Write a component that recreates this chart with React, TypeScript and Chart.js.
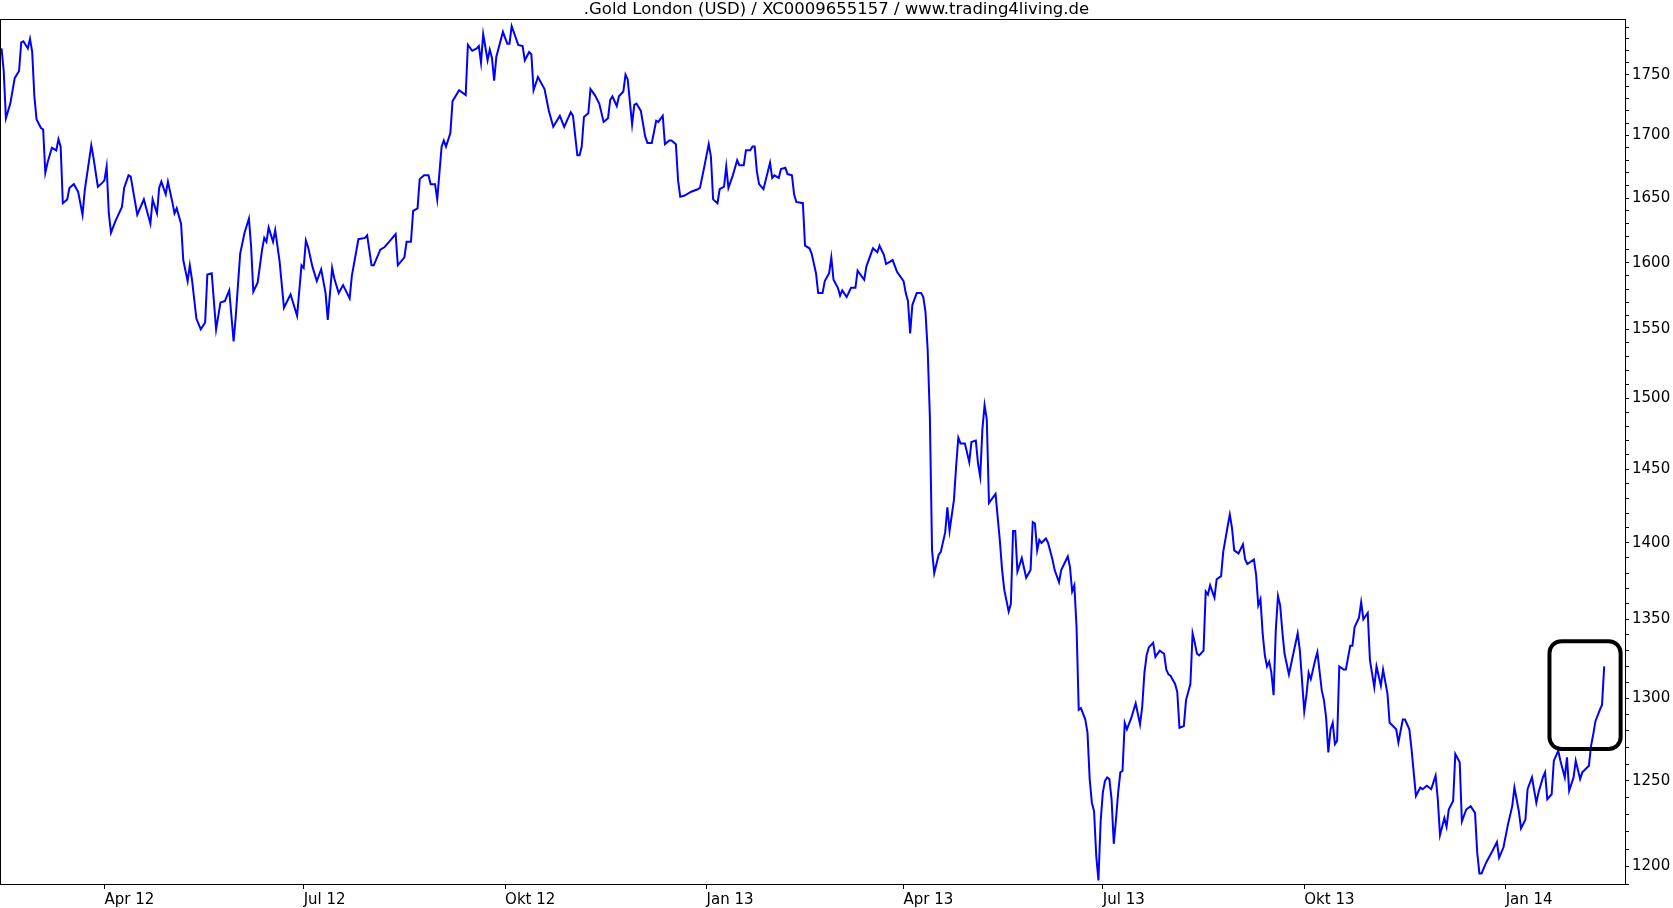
import React, { useEffect, useRef } from "react";
import { Chart, registerables } from "chart.js";

Chart.register(...registerables);

const chartTitle = ".Gold London (USD) / XC0009655157 / www.trading4living.de";

// days since 2012-01-01
const dayOffsets = [
  44, 45, 46, 48, 50, 52, 53, 54, 56, 57, 58, 59, 60, 62, 63, 64, 65, 67, 69, 70,
  71, 72, 74, 75, 77, 79, 81, 82, 84, 85, 86, 88, 90, 91, 92, 93, 94, 96, 99, 100,
  102, 103, 106, 109, 112, 113, 115, 116, 117, 119, 120, 122, 123, 124, 126, 127, 129, 130, 131, 133,
  135, 137, 138, 140, 142, 144, 146, 148, 150, 151, 153, 155, 157, 158, 159, 161, 163, 164, 165, 166,
  168, 169, 171, 173, 176, 179, 181, 182, 183, 184, 186, 188, 190, 192, 193, 195, 196, 198, 200, 203,
  204, 207, 210, 211, 213, 214, 217, 219, 221, 224, 225, 228, 229, 231, 232, 234, 235, 237, 239, 240,
  242, 243, 245, 246, 247, 249, 250, 253, 256, 257, 259, 261, 262, 263, 264, 266, 267, 268, 269, 270,
  273, 275, 276, 277, 280, 282, 283, 285, 286, 287, 289, 292, 294, 296, 299, 301, 302, 304, 305, 307,
  308, 309, 310, 312, 313, 315, 317, 319, 321, 322, 323, 325, 326, 328, 329, 330, 332, 333, 334, 336,
  338, 339, 341, 343, 344, 346, 347, 349, 350, 352, 353, 354, 356, 359, 362, 363, 365, 367, 368, 369,
  371, 372, 374, 375, 376, 378, 380, 381, 383, 384, 386, 387, 388, 389, 390, 392, 393, 395, 396, 397,
  399, 400, 402, 403, 405, 406, 407, 410, 411, 413, 414, 416, 417, 419, 420, 422, 423, 424, 426, 427,
  428, 430, 432, 434, 435, 438, 439, 442, 444, 445, 447, 448, 451, 453, 456, 457, 458, 459, 460, 462,
  464, 465, 466, 467, 468, 469, 470, 472, 473, 475, 476, 477, 479, 480, 481, 482, 484, 486, 487, 489,
  490, 491, 492, 493, 494, 495, 498, 500, 501, 502, 504, 505, 506, 507, 508, 510, 512, 514, 515, 516,
  517, 518, 519, 521, 522, 524, 525, 527, 528, 531, 532, 533, 534, 535, 536, 537, 539, 540, 541, 542,
  543, 544, 545, 546, 547, 548, 549, 550, 551, 552, 553, 554, 555, 556, 557, 558, 560, 562, 564, 565,
  566, 567, 568, 570, 571, 573, 575, 576, 577, 578, 580, 581, 582, 584, 585, 587, 588, 589, 590, 591,
  593, 594, 595, 596, 598, 599, 601, 602, 604, 605, 606, 607, 609, 611, 612, 613, 616, 617, 618, 619,
  620, 621, 622, 623, 624, 625, 626, 627, 628, 629, 630, 632, 634, 636, 637, 639, 640, 641, 642, 644,
  645, 647, 648, 649, 650, 651, 652, 653, 654, 655, 657, 658, 660, 661, 662, 664, 665, 666, 668, 669,
  671, 672, 674, 675, 677, 678, 681, 682, 684, 685, 687, 688, 690, 692, 693, 695, 697, 699, 700, 701,
  703, 704, 705, 707, 708, 710, 711, 713, 715, 717, 718, 719, 720, 722, 725, 727, 728, 730, 732, 734,
  735, 737, 738, 740, 741, 743, 745, 746, 748, 749, 750, 752, 753, 755, 756, 758, 759, 760, 762, 763,
  765, 766, 769, 770, 771, 772, 774, 775, 776,
];

const goldPrices = [
  1772, 1753, 1714, 1726, 1747, 1753, 1777, 1778, 1772, 1780, 1769, 1732, 1713, 1706, 1705, 1670, 1678, 1690, 1688, 1697,
  1691, 1646, 1649, 1658, 1661, 1655, 1637, 1656, 1680, 1692, 1682, 1659, 1662, 1664, 1675, 1638, 1623, 1632, 1643, 1658,
  1668, 1667, 1637, 1649, 1630, 1649, 1638, 1658, 1663, 1653, 1663, 1647, 1638, 1642, 1630, 1602, 1586, 1598, 1587, 1558,
  1550, 1555, 1591, 1592, 1550, 1570, 1571, 1579, 1541, 1560, 1607, 1623, 1634, 1612, 1578, 1585, 1610, 1619, 1616, 1627,
  1616, 1625, 1601, 1566, 1576, 1560, 1598, 1596, 1617, 1612, 1597, 1586, 1595, 1577, 1557, 1596, 1588, 1577, 1583, 1573,
  1590, 1618, 1619, 1621, 1598, 1598, 1610, 1612, 1616, 1622, 1598, 1604, 1616, 1616, 1640, 1642, 1665, 1668, 1668, 1661,
  1661, 1649, 1691, 1696, 1691, 1702, 1728, 1737, 1733, 1775, 1770, 1772, 1774, 1760, 1784, 1762, 1771, 1764, 1745, 1765,
  1786, 1776, 1776, 1791, 1775, 1774, 1762, 1769, 1767, 1737, 1748, 1738, 1720, 1707, 1716, 1707, 1711, 1719, 1716, 1684,
  1684, 1691, 1715, 1718, 1738, 1733, 1726, 1711, 1714, 1729, 1732, 1724, 1732, 1736, 1750, 1746, 1709, 1725, 1726, 1720,
  1699, 1694, 1694, 1712, 1711, 1716, 1693, 1696, 1696, 1693, 1664, 1651, 1652, 1655, 1657, 1658, 1675, 1693, 1683, 1649,
  1646, 1657, 1659, 1675, 1658, 1668, 1680, 1676, 1676, 1688, 1688, 1691, 1691, 1671, 1661, 1657, 1664, 1678, 1666, 1668,
  1666, 1673, 1674, 1669, 1668, 1653, 1647, 1646, 1613, 1611, 1607, 1592, 1577, 1577, 1586, 1592, 1604, 1587, 1581, 1575,
  1579, 1574, 1581, 1581, 1594, 1587, 1597, 1611, 1608, 1613, 1606, 1599, 1602, 1593, 1586, 1577, 1571, 1547, 1568, 1577,
  1577, 1574, 1563, 1535, 1487, 1395, 1380, 1392, 1394, 1407, 1424, 1408, 1429, 1452, 1472, 1468, 1468, 1455, 1469, 1470,
  1454, 1445, 1478, 1495, 1485, 1427, 1433, 1401, 1382, 1369, 1355, 1360, 1408, 1408, 1381, 1390, 1377, 1382, 1414, 1413,
  1395, 1402, 1400, 1403, 1400, 1389, 1382, 1374, 1382, 1391, 1384, 1368, 1372, 1345, 1293, 1294, 1287, 1279, 1251, 1237,
  1232, 1206, 1192, 1226, 1243, 1250, 1252, 1251, 1239, 1213, 1227, 1243, 1255, 1256, 1285, 1281, 1288, 1297, 1284, 1295,
  1316, 1327, 1332, 1335, 1326, 1330, 1328, 1318, 1315, 1314, 1309, 1304, 1282, 1283, 1299, 1309, 1341, 1335, 1328, 1327,
  1330, 1368, 1366, 1372, 1364, 1376, 1378, 1394, 1411, 1419, 1410, 1395, 1393, 1399, 1389, 1386, 1389, 1379, 1359, 1363,
  1341, 1327, 1320, 1323, 1316, 1302, 1343, 1365, 1359, 1342, 1328, 1315, 1328, 1341, 1330, 1292, 1302, 1316, 1312, 1324,
  1329, 1305, 1299, 1288, 1267, 1281, 1285, 1272, 1274, 1320, 1318, 1318, 1333, 1333, 1345, 1351, 1361, 1350, 1354, 1324,
  1307, 1320, 1308, 1318, 1303, 1285, 1281, 1273, 1287, 1287, 1281, 1269, 1241, 1246, 1245, 1247, 1245, 1253, 1239, 1218,
  1228, 1223, 1233, 1238, 1266, 1261, 1226, 1233, 1235, 1231, 1208, 1196, 1196, 1202, 1209, 1214, 1205, 1211, 1224, 1235,
  1246, 1232, 1222, 1227, 1245, 1252, 1237, 1243, 1252, 1255, 1239, 1242, 1262, 1268, 1262, 1252, 1264, 1244, 1252, 1262,
  1251, 1255, 1259, 1271, 1278, 1286, 1293, 1296, 1320,
];

const monthTickDays = [91, 182, 274, 366, 456, 547, 639, 731];
const monthTickLabels = ["Apr 12", "Jul 12", "Okt 12", "Jan 13", "Apr 13", "Jul 13", "Okt 13", "Jan 14"];

const priceLabelStep = 50;
const priceTickStep = 10;
const priceAxisMin = 1190;
const priceAxisMax = 1797;
const dayAxisMin = 43.3;
const dayAxisMax = 785.5;

// highlighted box around the latest move (data coordinates)
const highlightDays = [751, 783.5];
const highlightPrices = [1269, 1336];

const FONT = "'DejaVu Sans', Verdana, sans-serif";

export default function App() {
  const canvasRef = useRef<HTMLCanvasElement | null>(null);

  useEffect(() => {
    document.body.style.margin = "0";
    const canvas = canvasRef.current;
    if (!canvas) return;

    const points = dayOffsets.map((d, i) => ({ x: d, y: goldPrices[i] }));

    const titlePlugin = {
      id: "titleText",
      afterDraw(chart: any) {
        const { ctx } = chart;
        ctx.save();
        ctx.font = `16.5px ${FONT}`;
        ctx.fillStyle = "#000";
        ctx.textAlign = "center";
        ctx.textBaseline = "middle";
        ctx.fillText(chartTitle, chart.width / 2, 10);
        ctx.restore();
      },
    };

    const framePlugin = {
      id: "frame",
      afterDraw(chart: any) {
        const { ctx, chartArea: a } = chart;
        ctx.save();
        ctx.strokeStyle = "#000";
        ctx.lineWidth = 1;
        ctx.strokeRect(Math.round(a.left) + 0.5, Math.round(a.top) + 0.5, Math.round(a.right - a.left), Math.round(a.bottom - a.top));
        ctx.restore();
      },
    };

    const highlightPlugin = {
      id: "highlight",
      afterDatasetsDraw(chart: any) {
        const { ctx } = chart;
        const xs = chart.scales.x;
        const ys = chart.scales.y;
        const x1 = xs.getPixelForValue(highlightDays[0]);
        const x2 = xs.getPixelForValue(highlightDays[1]);
        const y1 = ys.getPixelForValue(highlightPrices[1]);
        const y2 = ys.getPixelForValue(highlightPrices[0]);
        ctx.save();
        ctx.strokeStyle = "#000";
        ctx.lineWidth = 4;
        ctx.beginPath();
        ctx.roundRect(x1, y1, x2 - x1, y2 - y1, 12);
        ctx.stroke();
        ctx.restore();
      },
    };

    const chart = new Chart(canvas, {
      type: "line",
      data: {
        datasets: [
          {
            data: points,
            borderColor: "#0000ff",
            borderWidth: 2,
            pointRadius: 0,
            tension: 0,
            fill: false,
          },
        ],
      },
      options: {
        animation: false,
        responsive: false,
        devicePixelRatio: 1,
        layout: { padding: { top: 19, left: 0, right: 0, bottom: 0 } },
        plugins: {
          legend: { display: false },
          title: { display: false },
          tooltip: { enabled: false },
        },
        scales: {
          x: {
            type: "linear",
            min: dayAxisMin,
            max: dayAxisMax,
            border: { display: false },
            grid: { display: true, drawOnChartArea: false, drawTicks: true, tickLength: 5, color: "#000" },
            ticks: {
              align: "start",
              maxRotation: 0,
              autoSkip: false,
              padding: 2,
              color: "#000",
              font: { family: FONT, size: 15 },
              callback: (_v: any, i: number) => monthTickLabels[i],
            },
            afterBuildTicks: (scale: any) => {
              scale.ticks = monthTickDays.map((v) => ({ value: v }));
            },
            afterFit: (scale: any) => {
              scale.height = 24;
            },
          },
          y: {
            type: "logarithmic",
            position: "right",
            min: priceAxisMin,
            max: priceAxisMax,
            border: { display: false },
            grid: { display: true, drawOnChartArea: false, drawTicks: true, tickLength: 4, color: "#000" },
            ticks: {
              autoSkip: false,
              padding: 3,
              color: "#000",
              font: { family: FONT, size: 15 },
              callback: (v: any) => (Number(v) % priceLabelStep === 0 ? String(v) : ""),
            },
            afterBuildTicks: (scale: any) => {
              const t: any[] = [];
              for (let v = priceAxisMin; v <= priceAxisMax; v += priceTickStep) t.push({ value: v });
              scale.ticks = t;
            },
            afterFit: (scale: any) => {
              scale.width = 48;
            },
          },
        },
      },
      plugins: [titlePlugin, framePlugin, highlightPlugin],
    });

    return () => chart.destroy();
  }, []);

  return (
    <div style={{ width: 1673, height: 908, background: "#fff" }}>
      <canvas ref={canvasRef} width={1673} height={908} style={{ display: "block", width: 1673, height: 908 }} />
    </div>
  );
}
